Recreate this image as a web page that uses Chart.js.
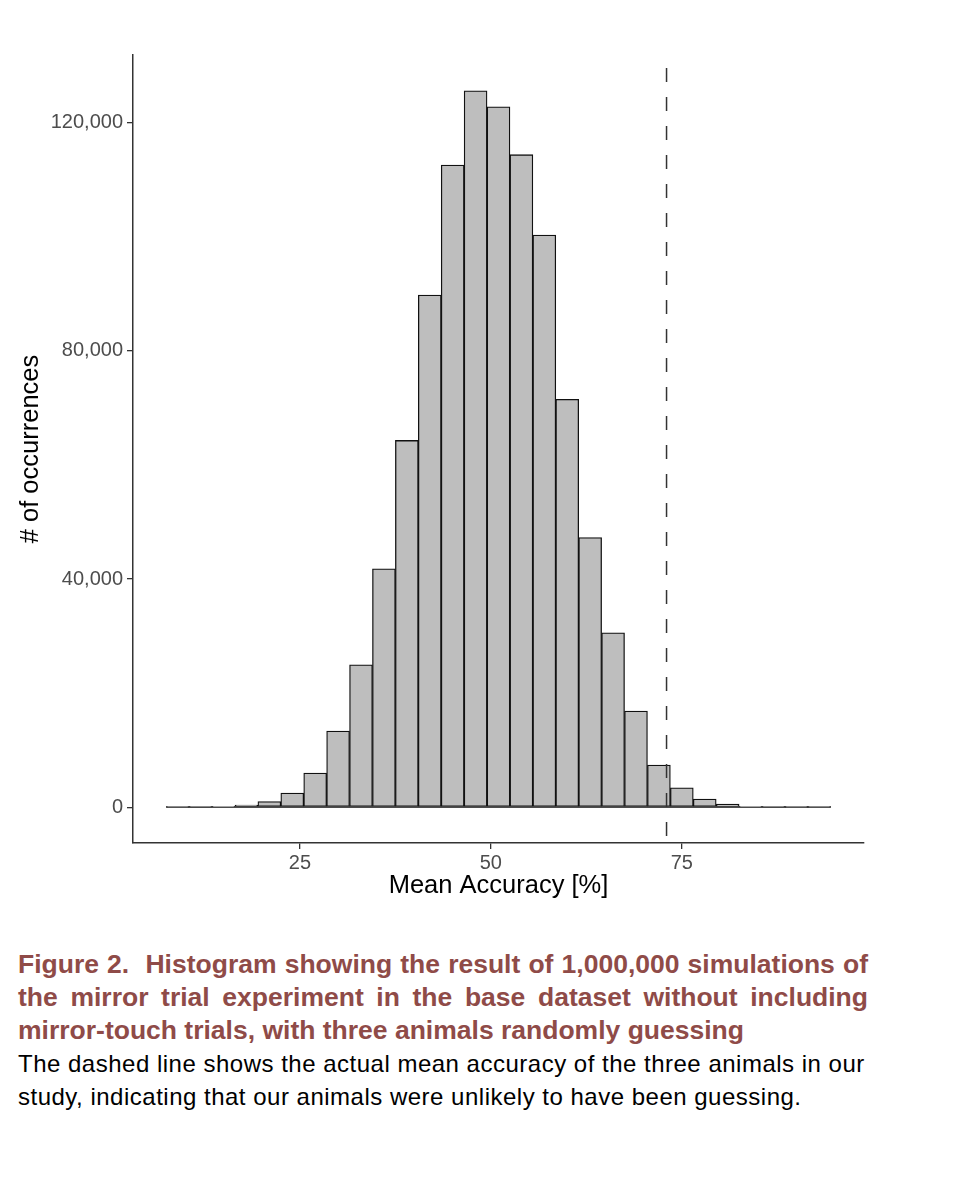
<!DOCTYPE html>
<html>
<head>
<meta charset="utf-8">
<script src="https://cdn.jsdelivr.net/npm/chart.js@4/dist/chart.umd.min.js"></script>
<style>
  body { margin: 0; background: #fff; font-family: "Liberation Sans", Arial, sans-serif; }
  #wrap { position: relative; width: 976px; height: 1188px; }
  #chartBox { position: absolute; left: 0; top: 0; width: 976px; height: 910px; }
  #caption { position: absolute; left: 18px; top: 948px; width: 850px; }
  .cap-title div { font-weight: bold; font-size: 26.5px; line-height: 33px; color: #8f4b48;
                   text-align: justify; text-align-last: justify; white-space: nowrap; }
  .cap-title div.last { text-align-last: left; }
  .cap-body div { font-size: 24px; letter-spacing: 0.5px; line-height: 33px; color: #000; white-space: nowrap; }
</style>
</head>
<body>
<div id="wrap">
  <div id="chartBox"><canvas id="hist"></canvas></div>
  <div id="caption">
    <div class="cap-title">
      <div>Figure 2.&nbsp; Histogram showing the result of 1,000,000 simulations of</div>
      <div>the mirror trial experiment in the base dataset without including</div>
      <div class="last">mirror-touch trials, with three animals randomly guessing</div>
    </div>
    <div class="cap-body">
      <div>The dashed line shows the actual mean accuracy of the three animals in our</div>
      <div>study, indicating that our animals were unlikely to have been guessing.</div>
    </div>
  </div>
</div>
<script>
// bin centres (mean accuracy, %), bins are 3 wide
var binWidth = 3;
var binCenters = [9, 12, 15, 18, 21, 24, 27, 30, 33, 36, 39, 42, 45, 48, 51,
                  54, 57, 60, 63, 66, 69, 72, 75, 78, 81, 84, 87, 90, 93];
var counts = [5, 25, 90, 380, 1000, 2460, 5970, 13350, 24950, 41800, 64300, 89800, 112600, 125600, 122800,
              114400, 100300, 71500, 47260, 30570, 16870, 7380, 3400, 1420, 540, 150, 40, 10, 2];
var actualAccuracy = 73;
var xTicks = [25, 50, 75];
var yTicks = [0, 40000, 80000, 120000];

// ggplot-like 5% expansion
var xLo = binCenters[0] - binWidth / 2;
var xHi = binCenters[binCenters.length - 1] + binWidth / 2;
var xPad = (xHi - xLo) * 0.05;
var yMax = Math.max.apply(null, counts);
var yPad = yMax * 0.05;

var histData = binCenters.map(function (c, i) { return {x: c, y: counts[i]}; });

var ctx = document.getElementById('hist').getContext('2d');
var chart = new Chart(ctx, {
    type: 'bar',
    data: {
        datasets: [
            {
                type: 'line',
                data: [{x: actualAccuracy, y: yMax + yPad}, {x: actualAccuracy, y: -yPad}],
                borderColor: '#333333',
                borderWidth: 1.5,
                borderDash: [14, 15],
                borderDashOffset: 16,
                pointRadius: 0,
                fill: false,
                order: 0
            },
            {
                type: 'line',
                data: [{x: xLo, y: 0}, {x: xHi, y: 0}],
                borderColor: '#111111',
                borderWidth: 1.3,
                pointRadius: 0,
                fill: false,
                order: 2
            },
            {
                data: histData,
                backgroundColor: '#bebebe',
                borderColor: '#111111',
                borderWidth: 1.3,
                borderSkipped: false,
                categoryPercentage: 1,
                barPercentage: 1,
                order: 1
            }
        ]
    },
    options: {
        responsive: true,
        maintainAspectRatio: false,
        animation: false,
        layout: { padding: { top: 55, right: 112, left: 0, bottom: 0 } },
        plugins: { legend: { display: false }, tooltip: { enabled: false } },
        scales: {
            x: {
                type: 'linear',
                min: xLo - xPad,
                max: xHi + xPad,
                offset: false,
                afterBuildTicks: function (scale) {
                    scale.ticks = xTicks.map(function (v) { return {value: v}; });
                },
                afterFit: function (scale) { scale.height = 67; },
                grid: { display: true, offset: false, drawOnChartArea: false, tickLength: 6, color: '#333333', lineWidth: 1.3 },
                border: { display: true, color: '#333333', width: 1.5 },
                ticks: { color: '#4d4d4d', font: { family: 'Liberation Sans', size: 20 }, padding: 2, maxRotation: 0 },
                title: { display: true, text: 'Mean Accuracy [%]', color: '#000',
                         font: { family: 'Liberation Sans', size: 25.5 }, padding: { top: 0, bottom: 9 } }
            },
            y: {
                min: -yPad,
                max: yMax + yPad,
                afterBuildTicks: function (scale) {
                    scale.ticks = yTicks.map(function (v) { return {value: v}; });
                },
                afterFit: function (scale) { scale.width = 133; },
                grid: { display: true, drawOnChartArea: false, tickLength: 6, color: '#333333', lineWidth: 1.3 },
                border: { display: true, color: '#333333', width: 1.5 },
                ticks: {
                    color: '#4d4d4d',
                    font: { family: 'Liberation Sans', size: 20 },
                    padding: 4,
                    callback: function (v) { return v.toLocaleString('en-US'); }
                },
                title: { display: true, text: '# of occurrences', color: '#000',
                         font: { family: 'Liberation Sans', size: 25.5 }, padding: { top: 16, bottom: 0 } }
            }
        }
    }
});
</script>
</body>
</html>
